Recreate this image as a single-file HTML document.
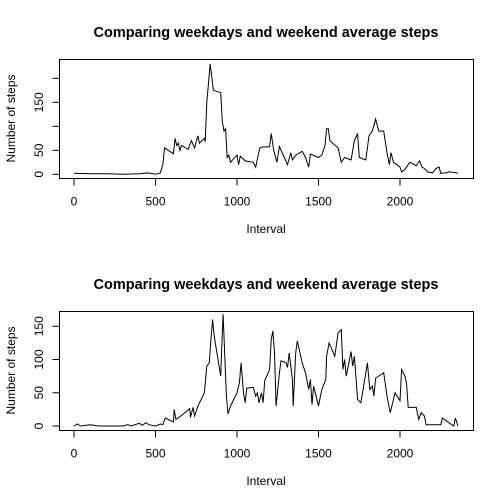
<!DOCTYPE html>
<html><head><meta charset="utf-8"><style>
body{margin:0;background:#fff}
svg{display:block;font-family:"Liberation Sans",Arial,sans-serif}
</style></head><body>
<svg id="c" width="504" height="504" xmlns="http://www.w3.org/2000/svg"></svg>
<script>
const xTicks=[0,500,1000,1500,2000];
const wdX=[0,100,200,300,400,450,500,530,545,555,610,620,630,640,650,660,700,720,740,760,770,800,805,815,825,835,845,855,900,910,920,930,940,950,960,1000,1010,1020,1050,1100,1115,1130,1140,1160,1200,1210,1225,1245,1260,1310,1330,1340,1360,1400,1420,1440,1450,1500,1520,1540,1550,1560,1570,1620,1640,1660,1700,1720,1740,1750,1790,1810,1830,1850,1870,1900,1920,1935,1945,1960,2000,2010,2030,2060,2100,2120,2135,2150,2170,2200,2220,2240,2250,2280,2300,2330,2355];
const wdY=[2,1,1,0,1,3,0,3,20,55,43,75,60,65,50,60,52,70,55,80,65,75,68,150,190,230,205,175,170,110,90,95,35,40,25,40,20,38,28,25,15,40,55,57,57,85,50,25,58,20,45,30,40,48,35,15,42,35,40,60,95,95,70,55,25,35,30,70,85,35,30,80,90,115,90,90,45,20,45,25,15,5,10,25,18,28,15,12,5,3,12,15,2,3,5,4,2];
const weX=[0,20,40,100,150,300,330,350,400,420,440,460,500,530,545,560,610,615,625,650,680,710,715,730,740,760,800,815,830,840,850,860,900,905,915,925,935,945,960,1000,1015,1025,1040,1050,1060,1100,1115,1125,1135,1150,1160,1170,1200,1210,1220,1230,1240,1260,1270,1300,1310,1320,1340,1345,1360,1370,1400,1420,1440,1450,1460,1470,1500,1520,1545,1550,1565,1600,1620,1640,1650,1660,1670,1700,1710,1720,1740,1760,1800,1815,1830,1840,1850,1900,1920,1940,1960,1970,2000,2010,2030,2040,2050,2100,2115,2130,2150,2160,2250,2260,2300,2330,2340,2355];
const weY=[0,3,0,2,0,0,2,0,4,1,5,2,0,3,2,12,6,25,10,14,20,26,13,28,15,30,50,90,95,130,160,135,75,110,168,105,45,18,30,50,65,95,50,35,57,58,45,50,35,50,35,68,85,130,143,110,30,80,98,95,88,110,70,30,110,128,95,80,55,70,32,60,30,55,70,105,125,105,140,145,85,100,75,112,90,105,40,35,95,55,60,45,72,80,45,20,40,50,38,85,75,65,28,28,10,20,15,2,2,12,5,0,12,0];
const p1Ticks=[0,50,100,150,200], p1Labels=["0","50","","150",""];
const p2Ticks=[0,50,100,150], p2Labels=["0","50","100","150"];
const NS="http://www.w3.org/2000/svg";
const svg=document.getElementById('c');
function mk(t,a,txt){const e=document.createElementNS(NS,t);for(const k in a)e.setAttribute(k,a[k]);if(txt!==undefined)e.textContent=txt;svg.appendChild(e);return e;}
function panel(p,top,bot,y0,ppu,xs,ys,yt,yl){
  const sx=v=>74+v*0.163, sy=v=>y0-v*ppu;
  let e=mk('text',{x:266,y:top-22,'text-anchor':'middle','font-size':'14.5','font-weight':'bold'},'Comparing weekdays and weekend average steps');
  
  
  e=mk('rect',{x:59.5,y:top+0.5,width:414,height:bot-top,fill:'none',stroke:'#000'});
  
  
  e=mk('polyline',{points:xs.map((x,i)=>sx(x).toFixed(1)+','+sy(ys[i]).toFixed(1)).join(' '),fill:'none',stroke:'#000','stroke-width':1});
  
  
  const xb=bot+0.5;
  xTicks.forEach(t=>{mk('line',{x1:sx(t),x2:sx(t),y1:xb,y2:xb+7,stroke:'#000'});
    e=mk('text',{x:sx(t),y:xb+27,'text-anchor':'middle','font-size':'12'},String(t));
    
    });
  const ya=59.5;
  yt.forEach((t,i)=>{mk('line',{x1:ya-7,x2:ya,y1:sy(t),y2:sy(t),stroke:'#000'});
    if(yl[i]){e=mk('text',{x:0,y:0,transform:`translate(43,${sy(t)}) rotate(-90)`,'text-anchor':'middle','font-size':'12'},yl[i]);
    
    }});
  e=mk('text',{x:266,y:bot+55,'text-anchor':'middle','font-size':'12'},'Interval');
  
  
  e=mk('text',{x:0,y:0,transform:`translate(15,${(top+bot)/2}) rotate(-90)`,'text-anchor':'middle','font-size':'12'},'Number of steps');
  
  
}
panel('weekday',59,178,174.3,0.48,wdX,wdY,p1Ticks,p1Labels);
panel('weekend',311,430,426,0.665,weX,weY,p2Ticks,p2Labels);
</script>
</body></html>
